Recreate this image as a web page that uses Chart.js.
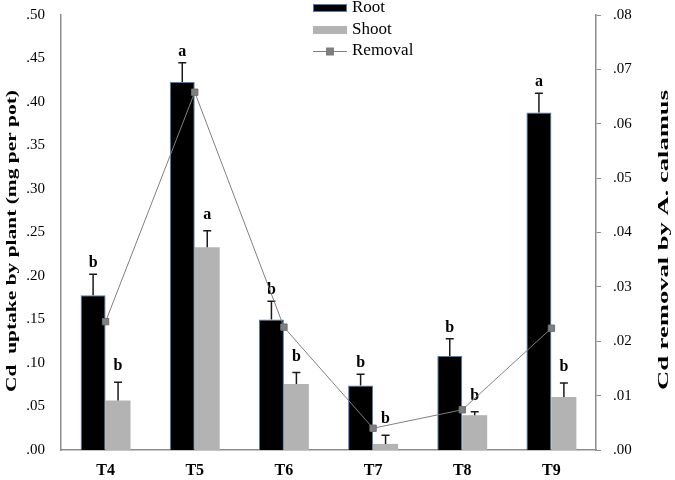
<!DOCTYPE html>
<html>
<head>
<meta charset="utf-8">
<script src="https://cdn.jsdelivr.net/npm/chart.js@4"></script>
<style>
  html, body { margin: 0; padding: 0; background: #fff; }
  #wrap { width: 675px; height: 480px; }
</style>
</head>
<body>
<div id="wrap"><canvas id="chart-cd"></canvas></div>
<script>
const categories = ["T4", "T5", "T6", "T7", "T8", "T9"];
const rootValues = [0.178, 0.423, 0.150, 0.074, 0.108, 0.388];
const rootErrors = [0.024, 0.022, 0.021, 0.013, 0.020, 0.022];
const shootValues = [0.057, 0.233, 0.076, 0.007, 0.040, 0.061];
const shootErrors = [0.021, 0.019, 0.013, 0.010, 0.004, 0.016];
const removalValues = [0.0236, 0.0658, 0.0226, 0.0040, 0.0074, 0.0224];
const rootLetters = ["b", "a", "b", "b", "b", "a"];
const shootLetters = ["b", "a", "b", "b", "b", "b"];
const leftTitle = "Cd  uptake by plant (mg per pot)";
const rightTitle = "Cd removal by A. calamus";

const serif = "'Liberation Serif', 'Times New Roman', serif";
const axisGray = "#8c8c8c";

const fmtTick = (v) => v.toFixed(2).replace(/^0/, "");

// error bars + significance letters, drawn for each bar dataset
const errorBarPlugin = {
  id: "errorBars",
  afterDatasetDraw(chart, args) {
    const ds = chart.data.datasets[args.index];
    if (!ds.errors) return;
    const meta = args.meta;
    const y = chart.scales.y;
    const ctx = chart.ctx;
    ctx.save();
    meta.data.forEach((bar, i) => {
      const top = y.getPixelForValue(ds.data[i] + ds.errors[i]);
      ctx.strokeStyle = "#1a1a1a";
      ctx.lineWidth = 1.5;
      ctx.beginPath();
      ctx.moveTo(bar.x, bar.y);
      ctx.lineTo(bar.x, top);
      ctx.moveTo(bar.x - 4, top);
      ctx.lineTo(bar.x + 4, top);
      ctx.stroke();
      ctx.fillStyle = "#000";
      ctx.font = "bold 16px " + serif;
      ctx.textAlign = "center";
      ctx.textBaseline = "alphabetic";
      ctx.fillText(ds.letters[i], bar.x, top - ds.letterGap);
    });
    ctx.restore();
  },
};

// vertical title, stretched along its length like the original export
function drawVerticalTitle(ctx, text, x, y, size, length) {
  ctx.save();
  ctx.font = "bold " + size + "px " + serif;
  const w = ctx.measureText(text).width;
  ctx.translate(x, y);
  ctx.rotate(-Math.PI / 2);
  ctx.scale(length / w, 1);
  ctx.fillStyle = "#000";
  ctx.textAlign = "center";
  ctx.textBaseline = "middle";
  ctx.fillText(text, 0, 0);
  ctx.restore();
}

// stacked legend at the top centre + both axis titles
const stackedLegend = {
  id: "stackedLegend",
  afterDraw(chart) {
    const ctx = chart.ctx;
    const x0 = 313, w = 34, tx = 352;
    const rows = [8, 30, 51];
    ctx.save();
    ctx.font = "17px " + serif;
    ctx.textBaseline = "middle";
    ctx.textAlign = "left";
    // Root
    ctx.fillStyle = "#000";
    ctx.fillRect(x0, rows[0] - 4, w, 8);
    ctx.strokeStyle = "#4a7ebb";
    ctx.lineWidth = 1;
    ctx.strokeRect(x0 + 0.5, rows[0] - 3.5, w - 1, 7);
    ctx.fillStyle = "#000";
    ctx.fillText(chart.data.datasets[1].label, tx, rows[0]);
    // Shoot
    ctx.fillStyle = "#b3b3b3";
    ctx.fillRect(x0, rows[1] - 4, w, 8);
    ctx.fillStyle = "#000";
    ctx.fillText(chart.data.datasets[2].label, tx, rows[1]);
    // Removal
    ctx.strokeStyle = "#808080";
    ctx.beginPath();
    ctx.moveTo(x0, rows[2] + 0.5);
    ctx.lineTo(x0 + w, rows[2] + 0.5);
    ctx.stroke();
    ctx.fillStyle = "#7f7f7f";
    ctx.fillRect(x0 + w / 2 - 4, rows[2] - 3.5, 8, 8);
    ctx.fillStyle = "#000";
    ctx.fillText(chart.data.datasets[0].label, tx, rows[2]);
    ctx.restore();

    drawVerticalTitle(ctx, leftTitle, 12, 241, 15, 302);
    drawVerticalTitle(ctx, rightTitle, 664, 240, 15, 300);
  },
};

// fixed box sizes so the plot area matches the original
const fixBox = (width) => (s) => {
  s.width = width;
  s.paddingTop = 0;
  s.paddingBottom = 0;
};

const ctxCd = document.querySelector("#chart-cd").getContext("2d");

new Chart(ctxCd, {
  type: "bar",
  data: {
    labels: categories,
    datasets: [
      {
        type: "line",
        label: "Removal",
        data: removalValues,
        yAxisID: "y1",
        order: 0,
        borderColor: "#808080",
        borderWidth: 1,
        tension: 0,
        pointStyle: "rect",
        pointRadius: 4.5,
        pointBackgroundColor: "#7f7f7f",
        pointBorderColor: "#707070",
        pointBorderWidth: 1,
      },
      {
        label: "Root",
        data: rootValues,
        errors: rootErrors,
        letters: rootLetters,
        letterGap: 7,
        yAxisID: "y",
        order: 1,
        backgroundColor: "#000000",
        borderColor: "#4a7ebb",
        borderWidth: 1,
      },
      {
        label: "Shoot",
        data: shootValues,
        errors: shootErrors,
        letters: shootLetters,
        letterGap: 12,
        yAxisID: "y",
        order: 1,
        backgroundColor: "#b3b3b3",
        borderWidth: 0,
      },
    ],
  },
  options: {
    responsive: true,
    maintainAspectRatio: false,
    animation: false,
    categoryPercentage: 0.56,
    barPercentage: 1,
    layout: { padding: { top: 15, left: 0, right: 0, bottom: 0 } },
    plugins: {
      legend: { display: false },
      tooltip: { enabled: false },
    },
    scales: {
      x: {
        grid: { display: false },
        border: { color: axisGray, width: 1.5 },
        ticks: {
          color: "#000",
          font: { family: serif, size: 16, weight: "bold" },
          padding: 3,
        },
        afterFit: (s) => {
          s.height = 30;
          s.paddingLeft = 0;
          s.paddingRight = 0;
        },
      },
      y: {
        position: "left",
        min: 0,
        max: 0.5,
        grid: { display: false },
        border: { color: axisGray, width: 1.5 },
        ticks: {
          stepSize: 0.05,
          color: "#000",
          font: { family: serif, size: 15 },
          padding: 8,
          callback: (v) => fmtTick(v),
        },
        afterFit: fixBox(61),
      },
      y1: {
        position: "right",
        min: 0,
        max: 0.08,
        grid: {
          drawOnChartArea: false,
          drawTicks: true,
          tickLength: 5,
          color: axisGray,
        },
        border: { color: axisGray, width: 1.5 },
        ticks: {
          stepSize: 0.01,
          color: "#000",
          font: { family: serif, size: 15 },
          padding: 12,
          callback: (v) => fmtTick(v),
        },
        afterFit: fixBox(79),
      },
    },
  },
  plugins: [errorBarPlugin, stackedLegend],
});
</script>
</body>
</html>
